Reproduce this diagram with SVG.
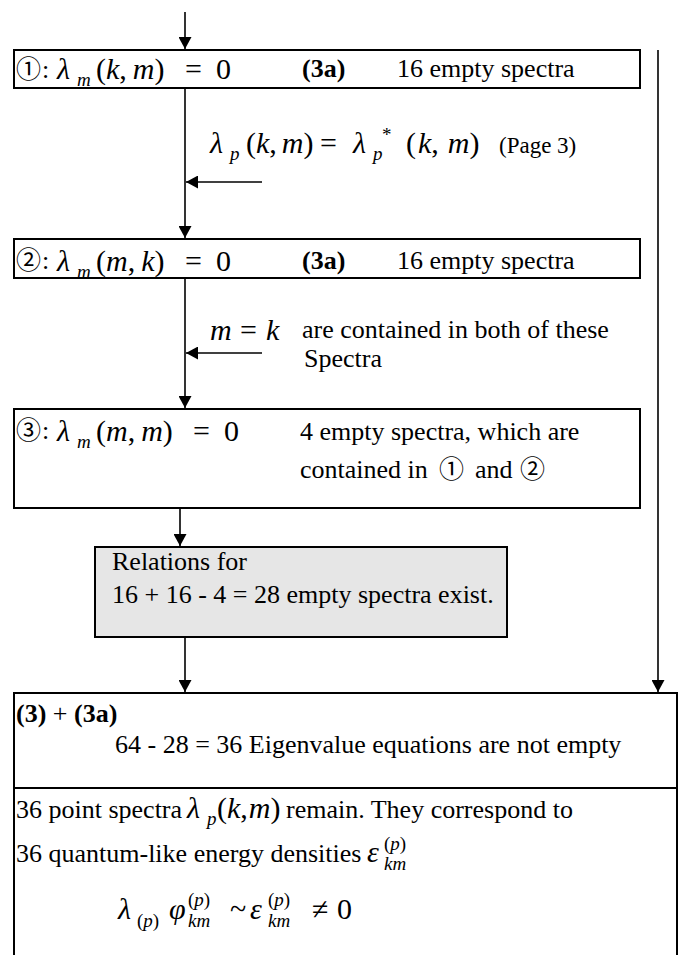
<svg xmlns="http://www.w3.org/2000/svg" width="679" height="955" viewBox="0 0 679 955" font-family="Liberation Serif, Noto Sans CJK JP, serif">
<style>
text{font-size:26px;fill:#000}
.b{font-weight:bold}
.m{font-size:30px}
.i{font-style:italic}
.s{font-size:19px}
.c{font-size:25px}
.box{fill:#fff;stroke:#000;stroke-width:2}
.grey{fill:#e6e6e6;stroke:#000;stroke-width:2}
.ln{fill:none;stroke:#000;stroke-width:1.6}
</style>
<defs>
<marker id="ah" viewBox="0 0 12 13" refX="12" refY="6.5" markerWidth="12" markerHeight="13" markerUnits="userSpaceOnUse" orient="auto">
<path d="M0,0 L12,6.5 L0,13 Z" fill="#000"/>
</marker>
</defs>

<g id="connectors">
<line class="ln" x1="185" y1="12" x2="185" y2="49" marker-end="url(#ah)"/>
<line class="ln" x1="185" y1="88" x2="185" y2="238" marker-end="url(#ah)"/>
<line class="ln" x1="262" y1="182" x2="186" y2="182" marker-end="url(#ah)"/>
<line class="ln" x1="185" y1="278" x2="185" y2="408" marker-end="url(#ah)"/>
<line class="ln" x1="262" y1="353" x2="186" y2="353" marker-end="url(#ah)"/>
<line class="ln" x1="180" y1="508" x2="180" y2="546" marker-end="url(#ah)"/>
<line class="ln" x1="185" y1="637" x2="185" y2="692" marker-end="url(#ah)"/>
<line class="ln" x1="658" y1="50" x2="658" y2="692" marker-end="url(#ah)"/>
</g>

<g id="node1" font-family="Liberation Serif, Noto Sans CJK JP, serif">
<rect class="box" x="14" y="50" width="626" height="38"/>
<text class="c" x="16" y="78">①</text>
<text x="42" y="78">:</text>
<text class="m i" x="57" y="79">λ</text>
<text class="s i" x="77" y="86">m</text>
<text class="m" x="96" y="79">(<tspan class="i">k</tspan>,<tspan class="i" dx="6">m</tspan>)</text>
<text class="m" x="185" y="79">=</text>
<text class="m" x="216" y="79">0</text>
<text class="b" x="302" y="77">(3a)</text>
<text x="397" y="77">16 empty spectra</text>
</g>

<g id="label1" font-family="Liberation Serif, serif">
<text class="m i" x="210" y="153">λ</text>
<text class="s i" x="230" y="160">p</text>
<text class="m" x="246" y="153">(<tspan class="i">k</tspan>,<tspan class="i" dx="5">m</tspan>)</text>
<text class="m" x="320" y="153">=</text>
<text class="m i" x="353" y="153">λ</text>
<text class="s i" x="373" y="160">p</text>
<text class="s" x="382" y="141">*</text>
<text class="m" x="406" y="153">(<tspan class="i" dx="2">k</tspan>,<tspan class="i" dx="9">m</tspan>)</text>
<text style="font-size:23px" x="499" y="153">(Page 3)</text>
</g>

<g id="node2" font-family="Liberation Serif, Noto Sans CJK JP, serif">
<rect class="box" x="14" y="239" width="626" height="39"/>
<text class="c" x="16" y="269">②</text>
<text x="42" y="269">:</text>
<text class="m i" x="57" y="271">λ</text>
<text class="s i" x="77" y="278">m</text>
<text class="m" x="96" y="271">(<tspan class="i">m</tspan>,<tspan class="i" dx="6">k</tspan>)</text>
<text class="m" x="185" y="271">=</text>
<text class="m" x="216" y="271">0</text>
<text class="b" x="302" y="269">(3a)</text>
<text x="397" y="269">16 empty spectra</text>
</g>

<g id="label2" font-family="Liberation Serif, serif">
<text class="m i" x="210" y="340">m</text>
<text class="m" x="240" y="340">=</text>
<text class="m i" x="266" y="340">k</text>
<text x="302" y="338">are contained in both of these</text>
<text x="304" y="367">Spectra</text>
</g>

<g id="node3" font-family="Liberation Serif, Noto Sans CJK JP, serif">
<rect class="box" x="14" y="409" width="626" height="99"/>
<text class="c" x="16" y="439">③</text>
<text x="42" y="439">:</text>
<text class="m i" x="57" y="441">λ</text>
<text class="s i" x="77" y="448">m</text>
<text class="m" x="96" y="441">(<tspan class="i">m</tspan>,<tspan class="i" dx="6">m</tspan>)</text>
<text class="m" x="193" y="441">=</text>
<text class="m" x="224" y="441">0</text>
<text x="300" y="440">4 empty spectra, which are</text>
<text x="300" y="478">contained in</text>
<text class="c" x="439" y="478">①</text>
<text x="475" y="478">and</text>
<text class="c" x="520" y="478">②</text>
</g>

<g id="node4" font-family="Liberation Serif, serif">
<rect class="grey" x="95" y="547" width="412" height="90"/>
<text x="112" y="570">Relations for</text>
<text x="112" y="603">16 + 16 - 4 = 28 empty spectra exist.</text>
</g>

<g id="node5" font-family="Liberation Serif, serif">
<path class="box" d="M14,956 V693 H677 V956"/>
<line class="ln" x1="14" y1="788" x2="677" y2="788" style="stroke-width:2"/>
<text x="16" y="722"><tspan class="b">(3)</tspan> + <tspan class="b">(3a)</tspan></text>
<text x="115" y="753">64 - 28 = 36 Eigenvalue equations are not empty</text>
<text x="16" y="818">36 point spectra</text>
<text class="m i" x="187" y="818">λ</text>
<text class="s i" x="207" y="825">p</text>
<text class="m" x="217" y="818">(<tspan class="i">k</tspan>,<tspan class="i" dx="1">m</tspan>)</text>
<text x="286" y="818">remain. They correspond to</text>
<text x="16" y="862">36 quantum-like energy densities</text>
<text class="m i" x="367" y="862">ε</text>
<text class="s" x="384" y="850">(<tspan class="i">p</tspan>)</text>
<text class="s i" x="384" y="870">km</text>
<text class="m i" x="118" y="919">λ</text>
<text class="s" x="137" y="927">(<tspan class="i">p</tspan>)</text>
<text class="m i" x="169" y="919">φ</text>
<text class="s" x="188" y="906">(<tspan class="i">p</tspan>)</text>
<text class="s i" x="188" y="927">km</text>
<text class="m" x="230" y="919">~</text>
<text class="m i" x="250" y="919">ε</text>
<text class="s" x="268" y="906">(<tspan class="i">p</tspan>)</text>
<text class="s i" x="268" y="927">km</text>
<text class="m" x="312" y="919">≠</text>
<text class="m" x="337" y="919">0</text>
</g>
</svg>
